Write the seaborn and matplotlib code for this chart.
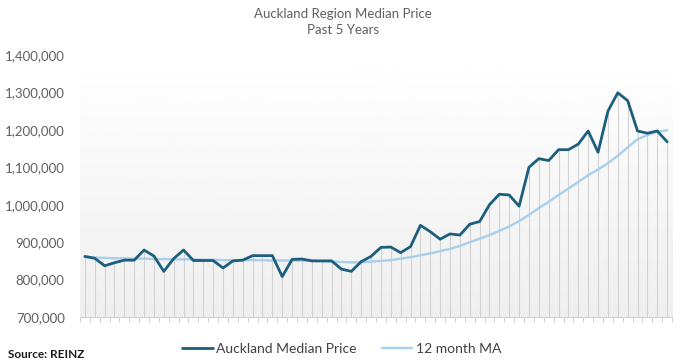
"""Auckland Region median house price over the past 5 years, with 12 month MA."""

import matplotlib

matplotlib.use("Agg")
import matplotlib.pyplot as plt
import numpy as np
import pandas as pd
import seaborn as sns
from matplotlib.ticker import FuncFormatter, MultipleLocator

# monthly values (NZD)
median_price = [
    862000, 857000, 837000, 845000, 852000, 852000, 879000, 863000, 822000, 856000,
    879000, 851000, 851000, 851000, 831000, 850000, 852000, 864000, 864000, 864000,
    808000, 854000, 855000, 850000, 850000, 850000, 828000, 822000, 848000, 862000,
    886000, 887000, 872000, 888000, 945000, 928000, 908000, 922000, 919000, 948000,
    955000, 1000000, 1028000, 1026000, 996000, 1100000, 1123000, 1118000, 1147000, 1147000,
    1162000, 1197000, 1140000, 1250000, 1299000, 1278000, 1197000, 1191000, 1197000, 1168000,
]
moving_avg = [
    860000, 859000, 858000, 857000, 857000, 856000, 856000, 855000, 855000, 854000,
    854000, 854000, 853000, 853000, 852000, 852000, 852000, 852000, 852000, 851000,
    851000, 851000, 850000, 850000, 849000, 848000, 847000, 846000, 846000, 848000,
    850000, 852000, 856000, 860000, 865000, 870000, 876000, 882000, 890000, 900000,
    909000, 919000, 930000, 942000, 956000, 973000, 991000, 1008000, 1026000, 1043000,
    1061000, 1079000, 1094000, 1111000, 1131000, 1153000, 1175000, 1186000, 1195000, 1199000,
]
y_ticks = [700000, 800000, 900000, 1000000, 1100000, 1200000, 1300000, 1400000]

DARK = "#1c5f7c"
LIGHT = "#a8cfeb"
GREY_TXT = "#5f5f5f"

sns.set_style("white")
plt.rcParams["font.family"] = ["Lato", "DejaVu Sans"]

df = pd.DataFrame({
    "month": np.arange(len(median_price)),
    "Auckland Median Price": median_price,
    "12 month MA": moving_avg,
})

fig = plt.figure(figsize=(6.83, 3.64), dpi=100)
ax = fig.add_axes([0.117, 0.129, 0.867, 0.72])

y_lo, y_hi = y_ticks[0], y_ticks[-1]
n = len(df)

# soft vertical gradient behind the plot area
grad = np.linspace(0.935, 1.0, 256).reshape(-1, 1)
ax.imshow(grad, extent=(-0.5, n - 0.5, y_lo, y_hi), origin="lower", aspect="auto",
          cmap="gray", vmin=0, vmax=1, zorder=0)

# drop lines from the median price down to the axis
ax.vlines(df["month"], y_lo, df["Auckland Median Price"], color="#d2d2d2", linewidth=0.8, zorder=1)

sns.lineplot(data=df, x="month", y="Auckland Median Price", color=DARK, linewidth=2.0,
             ax=ax, label="Auckland Median Price", zorder=3)
sns.lineplot(data=df, x="month", y="12 month MA", color=LIGHT, linewidth=1.7,
             ax=ax, label="12 month MA", zorder=2)

ax.set_xlim(-0.5, n - 0.5)
ax.set_ylim(y_lo, y_hi)
ax.set_yticks(y_ticks)
ax.yaxis.set_major_formatter(FuncFormatter(lambda v, _: f"{int(v):,}"))
ax.xaxis.set_major_locator(MultipleLocator(1, offset=0.5))
ax.set_xticklabels([])
ax.set_xlabel("")
ax.set_ylabel("")
ax.tick_params(axis="y", length=0, labelsize=9.5, labelcolor=GREY_TXT, pad=11)
ax.tick_params(axis="x", length=3.5, width=0.6, color="#c8c8c8", bottom=True)
for side in ["top", "right", "left"]:
    ax.spines[side].set_visible(False)
ax.spines["bottom"].set_color("#d0d0d0")
ax.spines["bottom"].set_linewidth(0.8)

handles, labels = ax.get_legend_handles_labels()
ax.legend_.remove()
fig.legend(handles, labels, loc="center", bbox_to_anchor=(0.5, 0.042), ncol=2, frameon=False,
           fontsize=10, labelcolor="#404040", handlelength=2.2, handletextpad=0.25,
           columnspacing=1.8)

fig.text(0.502, 0.962, "Auckland Region Median Price", ha="center", va="center",
         fontsize=9.5, color=GREY_TXT)
fig.text(0.502, 0.918, "Past 5 Years", ha="center", va="center", fontsize=9.5, color=GREY_TXT)
fig.text(0.012, 0.027, "Source: REINZ", ha="left", va="center", fontsize=8.5,
         fontweight="bold", color="#1a1a1a")

fig.savefig("out.png", dpi=100)
